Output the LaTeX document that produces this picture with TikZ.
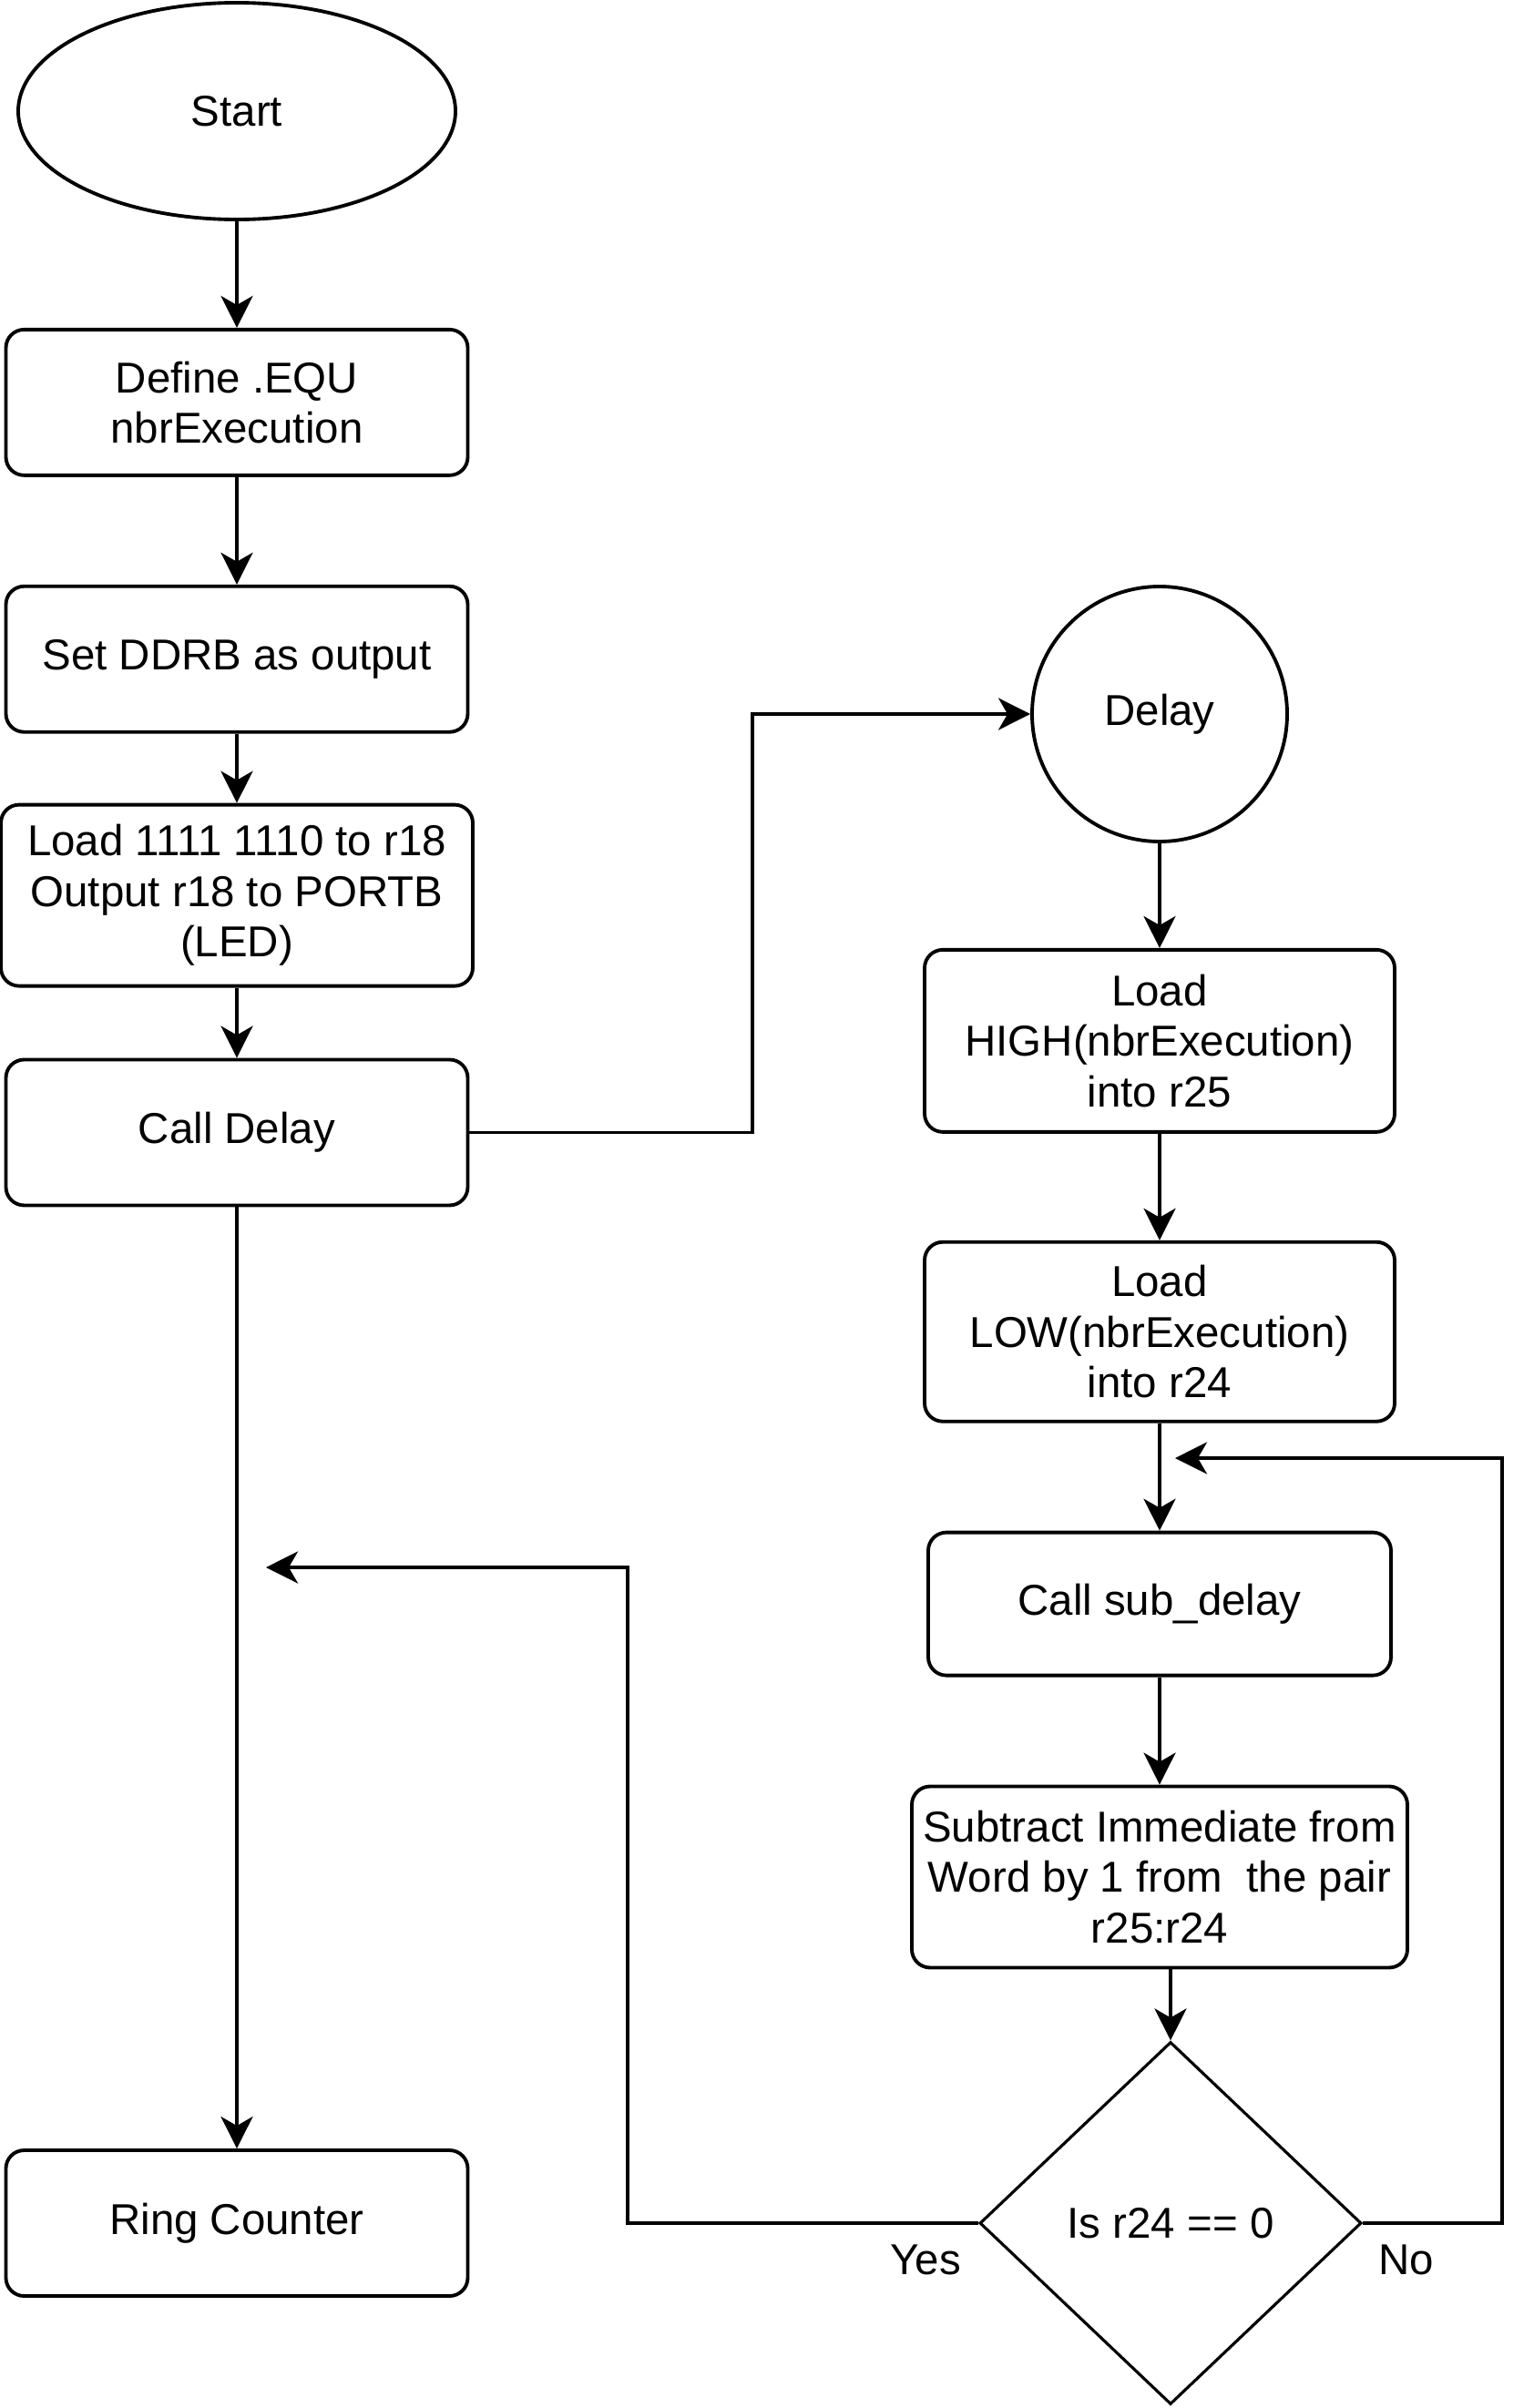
\documentclass[tikz,border=0pt]{standalone}
\usepackage{fontspec}
\setmainfont{Liberation Sans}
\usetikzlibrary{positioning,arrows.meta,shapes.geometric}

\begin{document}
\begin{tikzpicture}[>={Stealth[length=3.5mm,width=3.5mm,inset=1mm]}, line width=1.1pt,
  font=\fontsize{13.5}{15.8}\selectfont,
  blk/.style={draw, rounded corners=2mm, align=center, inner sep=1pt,
    minimum width=5.07cm, minimum height=1.6cm},
  term/.style={draw, ellipse, minimum width=4.8cm, minimum height=2.38cm},
  dec/.style={draw, diamond, inner sep=0pt, line width=0.9pt,
    minimum width=4.19cm, minimum height=3.98cm}]
  \useasboundingbox (0,0) rectangle (16.84,-26.44);

  % main program
  \node[term] (start) at (2.60,-1.22) {Start};
  \node[blk, below=1.17cm of start] (equ) {Define .EQU\\nbrExecution};
  \node[blk, below=1.18cm of equ] (ddrb) {Set DDRB as output};
  \node[blk, minimum width=5.18cm, minimum height=1.99cm, below=0.76cm of ddrb] (led)
    {Load 1111 1110 to r18\\Output r18 to PORTB\\(LED)};
  \node[blk, below=0.77cm of led] (calldly) {Call Delay};
  \node[blk] (ring) at (2.60,-24.41) {Ring Counter};

  % delay routine
  \node[draw, circle, minimum size=2.8cm] (dly) at (12.73,-7.84) {Delay};
  \node[blk, minimum width=5.16cm, minimum height=2cm, below=1.15cm of dly] (high)
    {Load\\HIGH(nbrExecution)\\into r25};
  \node[blk, minimum width=5.16cm, minimum height=1.97cm, below=1.17cm of high] (low)
    {Load\\LOW(nbrExecution)\\into r24};
  \node[blk, minimum width=5.08cm, minimum height=1.57cm, below=1.18cm of low] (subdly)
    {Call sub\_delay};
  \node[blk, minimum width=5.44cm, minimum height=1.99cm, below=1.18cm of subdly] (sbiw)
    {Subtract Immediate from\\Word by 1 from\ \ the pair\\r25:r24};
  \node[dec, below=0.78cm of sbiw, xshift=1.2mm] (iszero) {Is r24 == 0};

  \coordinate (jmp) at (8.26,-7.84);
  \coordinate (yesbend) at (6.89,-17.21);
  \coordinate (yestip) at (2.92,-17.21);
  \coordinate (nobend) at (16.49,-16.01);
  \coordinate (notip) at (12.90,-16.01);

  \draw[->] (start) -- (equ);
  \draw[->] (equ) -- (ddrb);
  \draw[->] (ddrb) -- (led);
  \draw[->] (led) -- (calldly);
  \draw[->] (calldly) -- (ring);
  \draw[->] (calldly.east) -| (jmp) -- (dly.west);

  \draw[->] (dly) -- (high);
  \draw[->] (high) -- (low);
  \draw[->] (low) -- (subdly);
  \draw[->] (subdly) -- (sbiw);
  \draw[->] (sbiw.south -| iszero.north) -- (iszero.north);

  % branches
  \draw[->] (iszero.west) -| (yesbend) -- (yestip);
  \draw[->] (iszero.east) -| (nobend) -- (notip);
  \node (yes) at (10.16,-24.81) {Yes};
  \node (no) at (15.44,-24.81) {No};
\end{tikzpicture}
\end{document}
